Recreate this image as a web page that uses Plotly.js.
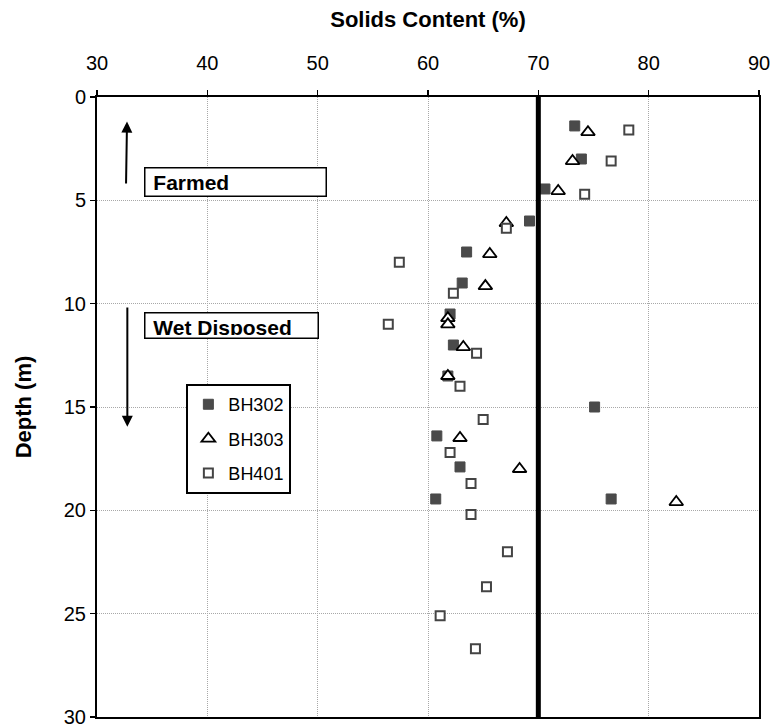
<!DOCTYPE html>
<html>
<head>
<meta charset="utf-8">
<script src="https://cdn.plot.ly/plotly-3.0.1.min.js"></script>
<style>html,body{margin:0;padding:0;background:#fff;}#chart{width:774px;height:727px;}</style>
</head>
<body>
<div id="chart"></div>
<script>
// ---- data ----
var bh302Depth = [1.4, 3.0, 4.45, 6.0, 7.5, 9.0, 10.5, 12.0, 13.5, 15.0, 16.4, 17.9, 19.45, 19.45];
var bh302Solids = [73.3, 73.9, 70.6, 69.2, 63.5, 63.1, 62.0, 62.3, 61.8, 75.1, 60.8, 62.9, 60.7, 76.6];

var bh303Depth = [1.7, 3.1, 4.55, 6.1, 7.6, 9.15, 10.7, 11.0, 12.1, 13.5, 16.5, 18.0, 19.6];
var bh303Solids = [74.5, 73.1, 71.8, 67.1, 65.6, 65.2, 61.8, 61.8, 63.2, 61.8, 62.9, 68.3, 82.5];

var bh401Depth = [1.6, 3.1, 4.7, 6.35, 8.0, 9.5, 11.0, 12.4, 14.0, 15.6, 17.2, 18.7, 20.2, 22.0, 23.7, 25.1, 26.7];
var bh401Solids = [78.2, 76.6, 74.2, 67.1, 57.4, 62.3, 56.4, 64.4, 62.9, 65.0, 62.0, 63.9, 63.9, 67.2, 65.3, 61.1, 64.3];

var seriesNames = ["BH302", "BH303", "BH401"];
var thresholdSolids = 70;
var xTicks = [30, 40, 50, 60, 70, 80, 90];
var yTicks = [0, 5, 10, 15, 20, 25, 30];
var zoneLabels = ["Farmed", "Wet Disposed"];

// ---- chart ----
var FONT = "Liberation Sans, Arial, sans-serif";
var traces = [
  {x: bh302Solids, y: bh302Depth, name: seriesNames[0], mode: "markers", type: "scatter", legendgroup: "a",
   marker: {symbol: "square", size: 10, color: "#4a4a4a", line: {color: "#4a4a4a", width: 1}}},
  {x: bh303Solids, y: bh303Depth, name: seriesNames[1], mode: "markers", type: "scatter", legendgroup: "b",
   marker: {symbol: "triangle-up", size: 12, color: "#ffffff", line: {color: "#000000", width: 1.8}}},
  {x: bh401Solids, y: bh401Depth, name: seriesNames[2], mode: "markers", type: "scatter", legendgroup: "c",
   marker: {symbol: "square", size: 9, color: "#ffffff", line: {color: "#444444", width: 2}}}
];

var gridStyle = {showgrid: true, gridcolor: "#a8a8a8", griddash: "1px,1px", gridwidth: 1, zeroline: false};

var layout = {
  width: 774, height: 727,
  margin: {l: 97, r: 15, t: 97, b: 10, pad: 0},
  paper_bgcolor: "#ffffff", plot_bgcolor: "#ffffff",
  font: {family: FONT, size: 18, color: "#000"},
  showlegend: true,
  legend: {x: 0.135, y: 0.537, xanchor: "left", yanchor: "top", bgcolor: "#fff",
           bordercolor: "#000", borderwidth: 2, font: {family: FONT, size: 18},
           traceorder: "grouped", tracegroupgap: 8, itemwidth: 30},
  xaxis: Object.assign({side: "top", range: [30, 90], tickvals: xTicks, ticks: "outside", ticklen: 5, tickwidth: 1.5,
          tickcolor: "#000", showline: true, linecolor: "#000", linewidth: 2, mirror: true,
          ticklabelstandoff: 12, ticklabeloverflow: "allow",
          tickfont: {family: FONT, size: 20},
          title: {text: "<b>Solids Content (%)</b>", font: {family: FONT, size: 22}, standoff: 18}}, gridStyle),
  yaxis: Object.assign({range: [30, 0], tickvals: yTicks, ticks: "outside", ticklen: 5, tickwidth: 1.5,
          tickcolor: "#000", showline: true, linecolor: "#000", linewidth: 2, mirror: true,
          ticklabeloverflow: "allow",
          tickfont: {family: FONT, size: 20},
          title: {text: "<b>Depth (m)</b>", font: {family: FONT, size: 22}, standoff: 26}}, gridStyle),
  shapes: [
    {type: "line", xref: "x", yref: "y", x0: thresholdSolids, x1: thresholdSolids, y0: 0, y1: 30,
     line: {color: "#000", width: 5}}
  ],
  annotations: [
    {xref: "x", yref: "y", x: 34.26, y: 3.39, xanchor: "left", yanchor: "top", showarrow: false,
     text: "<b>&nbsp;" + zoneLabels[0] + "</b>", align: "left", valign: "top", width: 175.5, height: 22.5, borderpad: 2,
     bordercolor: "#000", borderwidth: 1.5, bgcolor: "#fff", font: {family: FONT, size: 21}},
    {xref: "x", yref: "y", x: 34.26, y: 10.41, xanchor: "left", yanchor: "top", showarrow: false,
     text: "<b>&nbsp;" + zoneLabels[1] + "</b>", align: "left", valign: "top", width: 167.5, height: 19.5, borderpad: 2,
     bordercolor: "#000", borderwidth: 1.5, bgcolor: "#fff", font: {family: FONT, size: 21}},
    {xref: "x", yref: "y", axref: "x", ayref: "y", x: 32.72, y: 1.19, ax: 32.63, ay: 4.26,
     showarrow: true, arrowhead: 2, arrowsize: 1.1, arrowwidth: 2, arrowcolor: "#000", text: ""},
    {xref: "x", yref: "y", axref: "x", ayref: "y", x: 32.75, y: 15.95, ax: 32.75, ay: 10.11,
     showarrow: true, arrowhead: 2, arrowsize: 1.1, arrowwidth: 2, arrowcolor: "#000", text: ""}
  ]
};

Plotly.newPlot("chart", traces, layout, {displayModeBar: false, staticPlot: true});
</script>
</body>
</html>
